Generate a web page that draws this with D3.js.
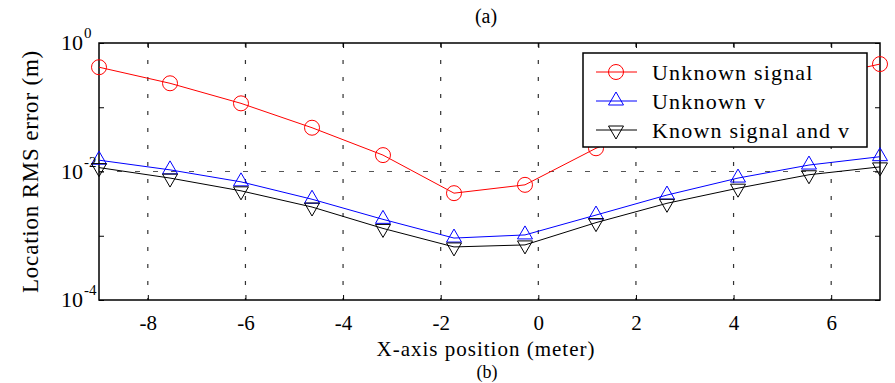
<!DOCTYPE html>
<html>
<head>
<meta charset="utf-8">
<script src="https://cdn.jsdelivr.net/npm/d3@7"></script>
<style>
	body { margin: 0; background: #fff; }
	svg { display: block; }
	svg text { font-family: "Liberation Serif", "Times New Roman", serif; }
</style>
</head>
<body>
<svg id="chart" width="895" height="383"></svg>
<script>
// x positions of the sample points (meter)
const xPos = [-9, -7.545, -6.091, -4.636, -3.182, -1.727, -0.273, 1.182, 2.636, 4.091, 5.545, 7];
// location RMS error (m)
const unknownSignal = [0.42, 0.236, 0.115, 0.048, 0.018, 0.0046, 0.0062, 0.023, 0.065, 0.14, 0.27, 0.47];
const unknownV = [0.015, 0.0106, 0.0069, 0.0037, 0.0018, 0.00092, 0.00103, 0.0021, 0.0043, 0.0079, 0.0126, 0.017];
const knownBoth = [0.0115, 0.0079, 0.005, 0.0028, 0.0013, 0.00067, 0.00072, 0.0016, 0.0032, 0.0055, 0.0089, 0.0118];
const xTicks = [-8, -6, -4, -2, 0, 2, 4, 6];
const yTicks = [1e-4, 1e-3, 1e-2, 1e-1, 1];
const yLabelExp = { "1": "0", "0.01": "-2", "0.0001": "-4" };
const seriesNames = ["Unknown signal", "Unknown v", "Known signal and v"];

const margin = { top: 43, right: 15, bottom: 83, left: 99 };
const width = 895, height = 383;
const chartwidth = width - margin.left - margin.right;
const chartheight = height - margin.top - margin.bottom;

const svg = d3.select("#chart");
const g = svg.append("g").attr("transform", "translate(" + margin.left + "," + margin.top + ")");

const x = d3.scaleLinear().domain([-9, 7]).range([0, chartwidth]);
const y = d3.scaleLog().domain([1e-4, 1]).range([chartheight, 0]);

// grid
g.selectAll(".vgrid")
	.data(xTicks)
	.join("line")
	.attr("x1", (d) => x(d)).attr("x2", (d) => x(d))
	.attr("y1", 0).attr("y2", chartheight)
	.attr("stroke", "#333").attr("stroke-width", 1.2)
	.attr("stroke-dasharray", "4,13");
g.append("line")
	.attr("x1", 0).attr("x2", chartwidth)
	.attr("y1", y(1e-2)).attr("y2", y(1e-2))
	.attr("stroke", "#555").attr("stroke-width", 1.2)
	.attr("stroke-dasharray", "5,13");

// box
g.append("rect")
	.attr("width", chartwidth).attr("height", chartheight)
	.attr("fill", "none").attr("stroke", "#000").attr("stroke-width", 1.5);

// axes
const xAxis = g.append("g")
	.attr("transform", "translate(0," + chartheight + ")")
	.call(d3.axisBottom(x).tickValues(xTicks).tickSizeInner(-5).tickSizeOuter(0).tickPadding(15)
		.tickFormat((d) => d < 0 ? "-" + Math.abs(d) : d));
xAxis.attr("font-family", null).attr("font-size", null);
xAxis.select(".domain").remove();
xAxis.selectAll("text")
	.style("font-family", "'Liberation Serif', serif")
	.style("font-size", "21px").attr("fill", "#000");
g.append("g")
	.call(d3.axisTop(x).tickValues(xTicks).tickSizeInner(-5).tickSizeOuter(0).tickFormat(""))
	.select(".domain").remove();

const yAxis = g.append("g")
	.call(d3.axisLeft(y).tickValues(yTicks).tickSizeInner(-5).tickSizeOuter(0).tickFormat(""));
yAxis.select(".domain").remove();
g.append("g")
	.attr("transform", "translate(" + chartwidth + ",0)")
	.call(d3.axisRight(y).tickValues(yTicks).tickSizeInner(-5).tickSizeOuter(0).tickFormat(""))
	.select(".domain").remove();

// series
const colors = ["#ff0000", "#0000ff", "#000000"];
const allSeries = [unknownSignal, unknownV, knownBoth];
const line = d3.line().x((d, i) => x(xPos[i])).y((d) => y(d));

function drawMarker(sel, type, color) {
	if (type === 0) {
		sel.append("circle").attr("r", 7.5).attr("fill", "none").attr("stroke", color).attr("stroke-width", 1);
	} else if (type === 1) {
		sel.append("path").attr("d", "M0,-9L7.5,4L-7.5,4Z").attr("fill", "none").attr("stroke", color).attr("stroke-width", 1);
	} else {
		sel.append("path").attr("d", "M0,9L7.5,-4L-7.5,-4Z").attr("fill", "none").attr("stroke", color).attr("stroke-width", 1);
	}
}

allSeries.forEach((s, k) => {
	g.append("path").datum(s)
		.attr("d", line).attr("fill", "none")
		.attr("stroke", colors[k]).attr("stroke-width", 1);
	g.selectAll(".m" + k)
		.data(s)
		.join("g")
		.attr("transform", (d, i) => "translate(" + x(xPos[i]) + "," + y(d) + ")")
		.each(function () { drawMarker(d3.select(this), k, colors[k]); });
});

// y tick labels (10^n), drawn over the markers
yTicks.filter((d) => yLabelExp[String(d)] !== undefined).forEach((d) => {
	g.append("text")
		.attr("x", -16).attr("y", y(d) + 7)
		.attr("text-anchor", "end")
		.style("font-size", "22px").text("10");
	g.append("text")
		.attr("x", -15).attr("y", y(d) - 5)
		.attr("text-anchor", "start")
		.style("font-size", "15px").text(yLabelExp[String(d)]);
});

// legend
const leg = svg.append("g").attr("transform", "translate(583,53)");
leg.append("rect").attr("width", 284).attr("height", 94)
	.attr("fill", "#fff").attr("stroke", "#000").attr("stroke-width", 1.5);
seriesNames.forEach((name, k) => {
	const row = leg.append("g").attr("transform", "translate(0," + (19 + k * 29) + ")");
	row.append("line").attr("x1", 13).attr("x2", 54)
		.attr("stroke", colors[k]).attr("stroke-width", 1);
	const m = row.append("g").attr("transform", "translate(33,0)");
	drawMarker(m, k, colors[k]);
	row.append("text").attr("x", 69).attr("y", 8)
		.style("font-size", "22px").attr("letter-spacing", 1.2).text(name);
});

// titles
svg.append("text").attr("x", 486).attr("y", 23).attr("text-anchor", "middle").style("font-size", "20px").text("(a)");
svg.append("text").attr("x", 486).attr("y", 356).attr("text-anchor", "middle").style("font-size", "21px")
	.attr("letter-spacing", 1).text("X-axis position (meter)");
svg.append("text").attr("x", 487).attr("y", 378).attr("text-anchor", "middle").style("font-size", "18px").text("(b)");
svg.append("text")
	.attr("transform", "translate(38," + (margin.top + chartheight / 2) + ") rotate(-90)")
	.attr("text-anchor", "middle").style("font-size", "23px").attr("letter-spacing", 0.8)
	.text("Location RMS error (m)");
</script>
</body>
</html>
